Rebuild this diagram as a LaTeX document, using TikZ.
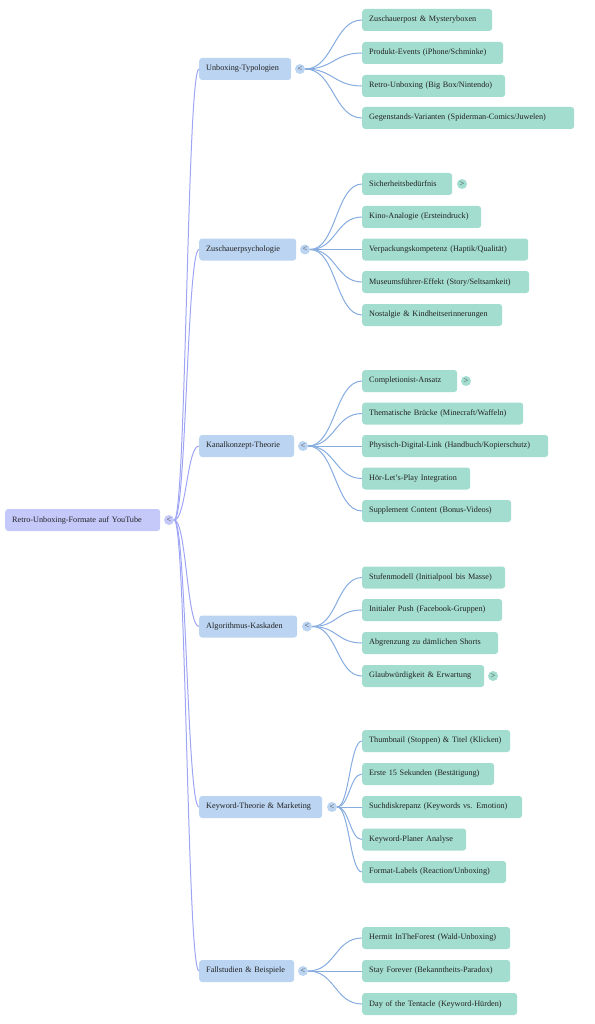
\documentclass[tikz,border=0pt]{standalone}
\usepackage{fontspec}
\setmainfont{Liberation Serif}
\definecolor{rootfill}{HTML}{C5C9FA}
\definecolor{topicfill}{HTML}{BBD4F1}
\definecolor{leaffill}{HTML}{A3DDCF}
\definecolor{rootedge}{HTML}{9FA5F5}
\definecolor{topicedge}{HTML}{86ACE0}
\definecolor{txt}{HTML}{222222}
\begin{document}
\begin{tikzpicture}[x=1pt,y=-1pt,
  box/.style={anchor=west,rounded corners=3pt,minimum height=22pt,inner xsep=7pt,inner ysep=0pt,align=left,text=txt,font=\fontsize{8.2}{10}\selectfont},
  root/.style={box,fill=rootfill},
  topic/.style={box,fill=topicfill},
  leaf/.style={box,fill=leaffill},
  tog/.style={circle,inner sep=0pt,minimum size=10pt,text=txt!85,font=\fontsize{8.5}{8.5}\selectfont},
  rootline/.style={draw=rootedge,line width=1pt},
  topicline/.style={draw=topicedge,line width=1pt}]
  \useasboundingbox (0,0) rectangle (594,1024);

  \node[root,text width=141pt] (r) at (5,520) {Retro-Unboxing-Formate auf YouTube};
  \node[tog,fill=rootfill] (c0) at (169,520) {<};

  \node[topic,text width=78pt] (t1) at (199,69) {Unboxing-Typologien};
  \node[topic,text width=83pt] (t2) at (199,249.5) {Zuschauerpsychologie};
  \node[topic,text width=81pt] (t3) at (199,446) {Kanalkonzept-Theorie};
  \node[topic,text width=84pt] (t4) at (199,626.5) {Algorithmus-Kaskaden};
  \node[topic,text width=109pt] (t5) at (199,807) {Keyword-Theorie \& Marketing};
  \node[topic,text width=81pt] (t6) at (199,971) {Fallstudien \& Beispiele};

  \node[tog,fill=topicfill] (c1) at (300,69) {<};
  \node[tog,fill=topicfill] (c2) at (305,249.5) {<};
  \node[tog,fill=topicfill] (c3) at (303,446) {<};
  \node[tog,fill=topicfill] (c4) at (307,626.5) {<};
  \node[tog,fill=topicfill] (c5) at (332,807) {<};
  \node[tog,fill=topicfill] (c6) at (303,971) {<};

  \foreach \t in {t1,t2,t3,t4,t5,t6}
    \draw[rootline] (c0.east) .. controls +(12,0) and +(-12,0) .. (\t.west);

  \node[leaf,text width=116pt] (u1) at (362,20) {Zuschauerpost \& Mysteryboxen};
  \node[leaf,text width=127pt] (u2) at (362,53) {Produkt-Events (iPhone/Schminke)};
  \node[leaf,text width=129pt] (u3) at (362,86) {Retro-Unboxing (Big Box/Nintendo)};
  \node[leaf,text width=198pt] (u4) at (362,118) {Gegenstands-Varianten (Spiderman-Comics/Juwelen)};

  \node[leaf,text width=76pt] (z1) at (362,184) {Sicherheitsbedürfnis};
  \node[leaf,text width=105pt] (z2) at (362,217) {Kino-Analogie (Ersteindruck)};
  \node[leaf,text width=152pt] (z3) at (362,249.5) {Verpackungskompetenz (Haptik/Qualität)};
  \node[leaf,text width=153pt] (z4) at (362,282) {Museumsführer-Effekt (Story/Seltsamkeit)};
  \node[leaf,text width=126pt] (z5) at (362,315) {Nostalgie \& Kindheitserinnerungen};

  \node[leaf,text width=81pt] (k1) at (362,381) {Completionist-Ansatz};
  \node[leaf,text width=147pt] (k2) at (362,413.5) {Thematische Brücke (Minecraft/Waffeln)};
  \node[leaf,text width=172pt] (k3) at (362,446) {Physisch-Digital-Link (Handbuch/Kopierschutz)};
  \node[leaf,text width=94pt] (k4) at (362,478.5) {Hör-Let's-Play Integration};
  \node[leaf,text width=135pt] (k5) at (362,511) {Supplement Content (Bonus-Videos)};

  \node[leaf,text width=129pt] (a1) at (362,577.5) {Stufenmodell (Initialpool bis Masse)};
  \node[leaf,text width=126pt] (a2) at (362,610) {Initialer Push (Facebook-Gruppen)};
  \node[leaf,text width=122pt] (a3) at (362,643) {Abgrenzung zu dämlichen Shorts};
  \node[leaf,text width=108pt] (a4) at (362,676) {Glaubwürdigkeit \& Erwartung};

  \node[leaf,text width=134pt] (w1) at (362,741) {Thumbnail (Stoppen) \& Titel (Klicken)};
  \node[leaf,text width=118pt] (w2) at (362,774) {Erste 15 Sekunden (Bestätigung)};
  \node[leaf,text width=146pt] (w3) at (362,807) {Suchdiskrepanz (Keywords vs. Emotion)};
  \node[leaf,text width=90pt] (w4) at (362,839.5) {Keyword-Planer Analyse};
  \node[leaf,text width=130pt] (w5) at (362,872) {Format-Labels (Reaction/Unboxing)};

  \node[leaf,text width=134pt] (f1) at (362,938) {Hermit InTheForest (Wald-Unboxing)};
  \node[leaf,text width=134pt] (f2) at (362,971) {Stay Forever (Bekanntheits-Paradox)};
  \node[leaf,text width=141pt] (f3) at (362,1004) {Day of the Tentacle (Keyword-Hürden)};

  \node[tog,fill=leaffill] (g1) at (462,184) {>};
  \node[tog,fill=leaffill] (g2) at (466,381) {>};
  \node[tog,fill=leaffill] (g3) at (493,676) {>};

  \foreach \l in {u1,u2,u3,u4}
    \draw[topicline] (c1.east) .. controls +(28,0) and +(-28,0) .. (\l.west);
  \foreach \l in {z1,z2,z3,z4,z5}
    \draw[topicline] (c2.east) .. controls +(26,0) and +(-26,0) .. (\l.west);
  \foreach \l in {k1,k2,k3,k4,k5}
    \draw[topicline] (c3.east) .. controls +(27,0) and +(-27,0) .. (\l.west);
  \foreach \l in {a1,a2,a3,a4}
    \draw[topicline] (c4.east) .. controls +(25,0) and +(-25,0) .. (\l.west);
  \foreach \l in {w1,w2,w3,w4,w5}
    \draw[topicline] (c5.east) .. controls +(12,0) and +(-12,0) .. (\l.west);
  \foreach \l in {f1,f2,f3}
    \draw[topicline] (c6.east) .. controls +(27,0) and +(-27,0) .. (\l.west);
\end{tikzpicture}
\end{document}
